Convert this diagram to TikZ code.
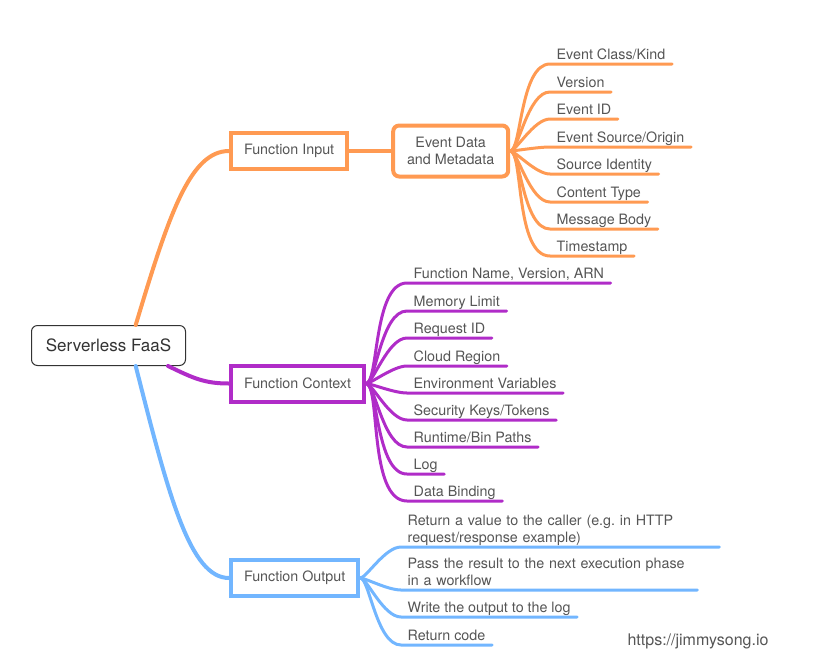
\documentclass[tikz,border=0pt]{standalone}
\usepackage{fontspec}
\setmainfont{TeX Gyre Heros}
\usepackage{tikz}
\usetikzlibrary{positioning}
\definecolor{inorange}{HTML}{FF9A52}
\definecolor{ctxpurple}{HTML}{B02CC8}
\definecolor{outblue}{HTML}{72B6FF}
\definecolor{textgray}{HTML}{555555}
\newcommand{\leaffont}{\fontsize{14.3}{17}\selectfont}
\newcommand{\rootfont}{\fontsize{17}{20}\selectfont}
\tikzset{
	rootbox/.style={draw=black!80, line width=1pt, rounded corners=6pt, minimum width=154pt, minimum height=40pt, font=\rootfont, text=black!80}
}
\tikzset{
	branchbox/.style={draw, line width=4pt, minimum height=36pt, inner xsep=13pt, font=\leaffont, text=textgray}
}
\tikzset{
	leaftext/.style={anchor=south west, inner xsep=6.5pt, inner ysep=4.5pt, text depth=0pt, font=\leaffont, text=textgray}
}
\tikzset{
	twoline/.style={align=left, text depth=17pt}
}
\tikzset{
	rootlink/.style={line width=4pt, line cap=round},
	leaflink/.style={line width=3pt, line cap=round}
}
\newcommand{\fan}{to[out=0, in=180, out looseness=0.3, in looseness=0.8]}

\begin{document}
\begin{tikzpicture}[x=1pt, y=-1pt]
  \useasboundingbox (0,0) rectangle (829,670);
  \node[rootbox] (root) at (108.5,345.5) {Serverless FaaS};
  \node[branchbox, draw=inorange, anchor=west] (input) at (229,151) {Function Input};
  \node[branchbox, draw=ctxpurple, anchor=west] (context) at (229,383.5) {Function Context};
  \node[branchbox, draw=outblue, anchor=west] (output) at (229,578) {Function Output};
  \node[branchbox, draw=inorange, rounded corners=6pt, align=center, minimum width=115pt, minimum height=51pt, right=42pt of input] (eventdata) {Event Data\\and Metadata};
  \draw[rootlink, inorange] (root.37) .. controls +(33,-110) and +(-39,0) .. (input.west);
  \draw[rootlink, ctxpurple] (root.-19) .. controls +(25,12) and +(-25,0) .. (context.west);
  \draw[rootlink, outblue] (root.-37) .. controls +(33,130) and +(-39,0) .. (output.west);
  \draw[rootlink, inorange] (input.east) -- (eventdata.west);
  % event data leaves
  \node[leaftext] (ev1) at (550,64) {Event Class/Kind};
  \node[leaftext] (ev2) at (550,92) {Version};
  \node[leaftext] (ev3) at (550,119) {Event ID};
  \node[leaftext] (ev4) at (550,147) {Event Source/Origin};
  \node[leaftext] (ev5) at (550,174) {Source Identity};
  \node[leaftext] (ev6) at (550,202) {Content Type};
  \node[leaftext] (ev7) at (550,229) {Message Body};
  \node[leaftext] (ev8) at (550,256) {Timestamp};
  \draw[leaflink, inorange] (eventdata.east) \fan (ev1.south west) -- (ev1.south east);
  \draw[leaflink, inorange] (eventdata.east) \fan (ev2.south west) -- (ev2.south east);
  \draw[leaflink, inorange] (eventdata.east) \fan (ev3.south west) -- (ev3.south east);
  \draw[leaflink, inorange] (eventdata.east) \fan (ev4.south west) -- (ev4.south east);
  \draw[leaflink, inorange] (eventdata.east) \fan (ev5.south west) -- (ev5.south east);
  \draw[leaflink, inorange] (eventdata.east) \fan (ev6.south west) -- (ev6.south east);
  \draw[leaflink, inorange] (eventdata.east) \fan (ev7.south west) -- (ev7.south east);
  \draw[leaflink, inorange] (eventdata.east) \fan (ev8.south west) -- (ev8.south east);
  % context leaves
  \node[leaftext] (cx1) at (407,283) {Function Name, Version, ARN};
  \node[leaftext] (cx2) at (407,311) {Memory Limit};
  \node[leaftext] (cx3) at (407,338) {Request ID};
  \node[leaftext] (cx4) at (407,366) {Cloud Region};
  \node[leaftext] (cx5) at (407,393) {Environment Variables};
  \node[leaftext] (cx6) at (407,420) {Security Keys/Tokens};
  \node[leaftext] (cx7) at (407,447) {Runtime/Bin Paths};
  \node[leaftext] (cx8) at (407,474) {Log};
  \node[leaftext] (cx9) at (407,501) {Data Binding};
  \draw[leaflink, ctxpurple] (context.east) \fan (cx1.south west) -- (cx1.south east);
  \draw[leaflink, ctxpurple] (context.east) \fan (cx2.south west) -- (cx2.south east);
  \draw[leaflink, ctxpurple] (context.east) \fan (cx3.south west) -- (cx3.south east);
  \draw[leaflink, ctxpurple] (context.east) \fan (cx4.south west) -- (cx4.south east);
  \draw[leaflink, ctxpurple] (context.east) \fan (cx5.south west) -- (cx5.south east);
  \draw[leaflink, ctxpurple] (context.east) \fan (cx6.south west) -- (cx6.south east);
  \draw[leaflink, ctxpurple] (context.east) \fan (cx7.south west) -- (cx7.south east);
  \draw[leaflink, ctxpurple] (context.east) \fan (cx8.south west) -- (cx8.south east);
  \draw[leaflink, ctxpurple] (context.east) \fan (cx9.south west) -- (cx9.south east);
  % output leaves
  \node[leaftext, twoline, text width=305pt] (op1) at (401,547) {Return a value to the caller (e.g.\ in HTTP\\request/response example)};
  \node[leaftext, twoline, text width=283pt] (op2) at (401,590) {Pass the result to the next execution phase\\in a workflow};
  \node[leaftext] (op3) at (401,617) {Write the output to the log};
  \node[leaftext] (op4) at (401,645) {Return code};
  \draw[leaflink, outblue] (output.east) \fan (op1.south west) -- (op1.south east);
  \draw[leaflink, outblue] (output.east) \fan (op2.south west) -- (op2.south east);
  \draw[leaflink, outblue] (output.east) \fan (op3.south west) -- (op3.south east);
  \draw[leaflink, outblue] (output.east) \fan (op4.south west) -- (op4.south east);
  \node[font=\fontsize{16}{19}\selectfont, text=textgray] (credit) at (698,641) {https://jimmysong.io};
\end{tikzpicture}
\end{document}
